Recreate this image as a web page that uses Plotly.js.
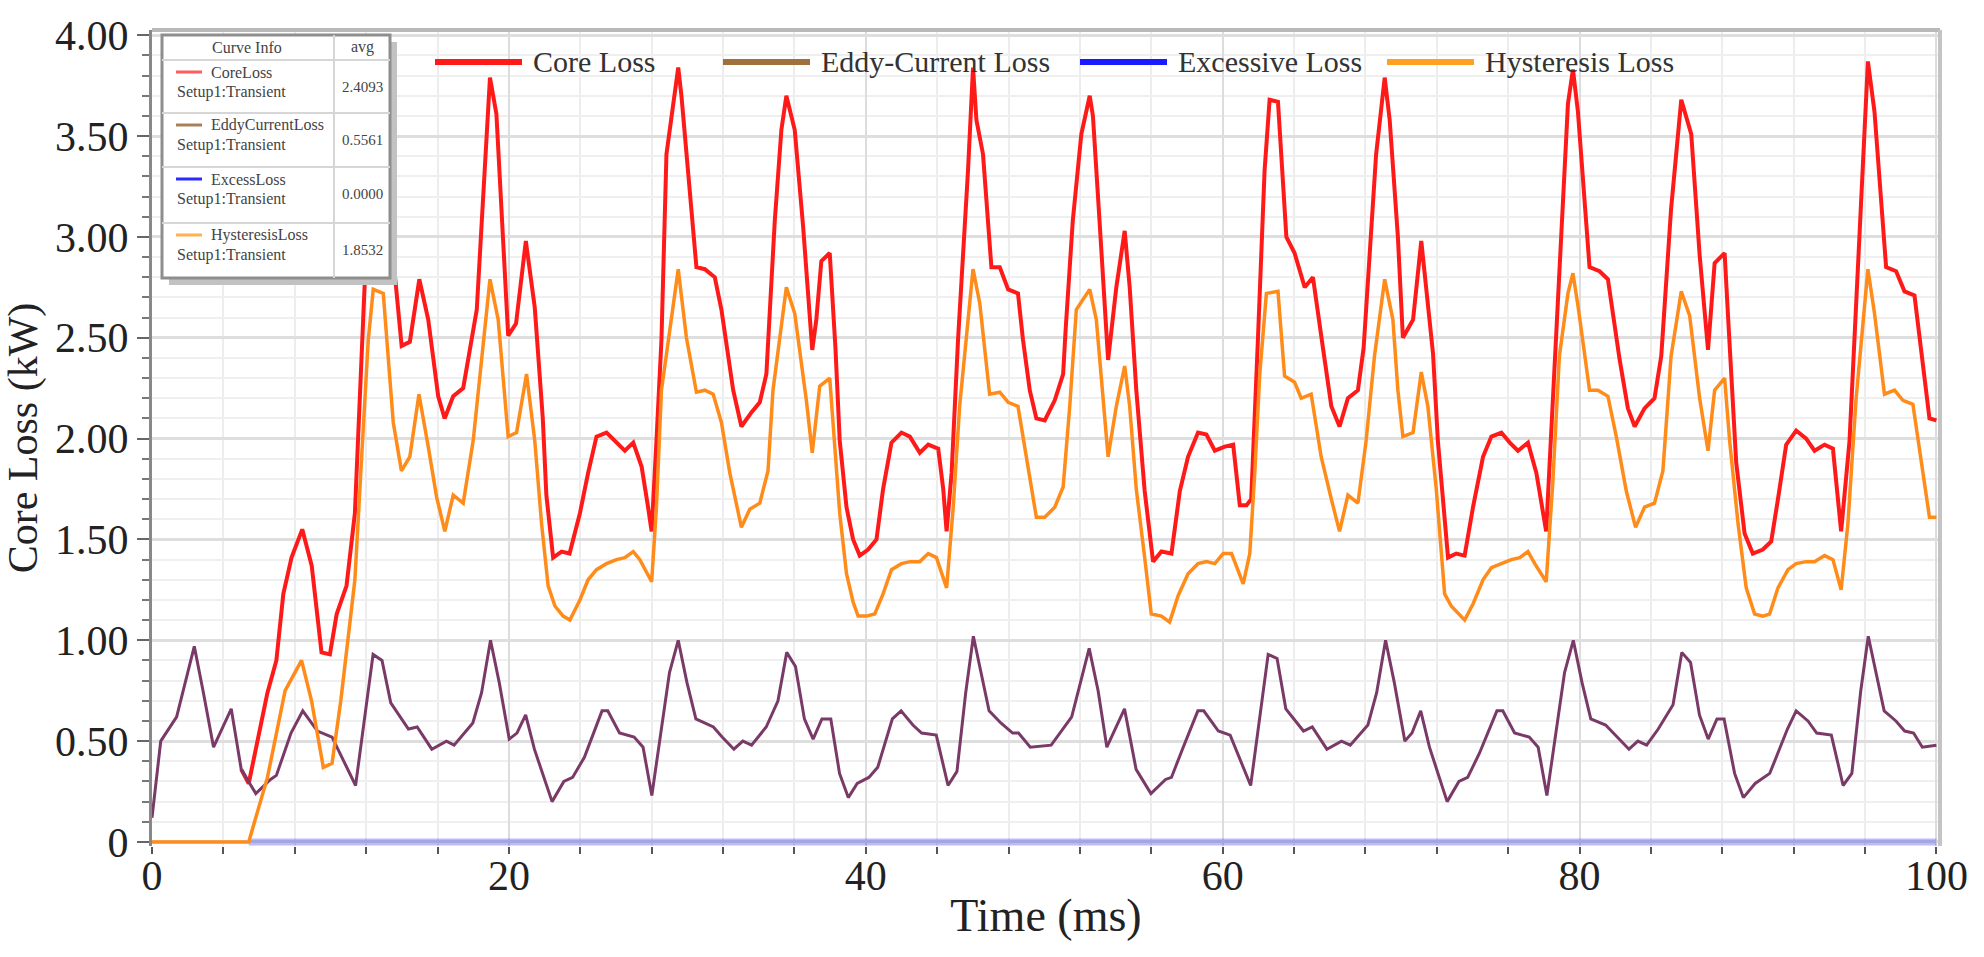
<!DOCTYPE html>
<html>
<head>
<meta charset="utf-8">
<script src="https://cdn.plot.ly/plotly-3.0.1.min.js"></script>
<style>
  html, body { margin: 0; padding: 0; background: #fff; }
  #chart { width: 1984px; height: 957px; }
</style>
</head>
<body>
<div id="chart"></div>
<script>
// Transient core loss curves (kW vs ms)
// Core loss before ~5 ms equals the eddy-current loss and sits under it, so it starts at 5 ms.

const coreTime = [5.00, 5.42, 6.47, 6.97, 7.36, 7.82, 8.42, 8.95, 9.50, 9.97, 10.35, 10.90, 11.37,
  11.75, 11.93, 12.45, 12.95, 13.30, 13.99, 14.45, 14.98, 15.48, 16.04, 16.40, 16.88, 17.44, 18.20, 18.94, 19.30, 19.96, 20.40, 20.95, 21.45,
  21.90, 22.10, 22.48, 22.95, 23.40, 23.98, 24.44, 24.91, 25.47, 26.03, 26.50, 26.97, 27.44, 27.80, 28.00, 28.27, 28.55, 28.83, 29.30, 29.49,
  29.67, 30.14, 30.51, 30.98, 31.54, 31.91, 32.28, 32.57, 33.03, 33.59, 34.06, 34.43, 34.90, 35.27, 35.55, 36.02, 36.49, 36.86, 37.00, 37.23,
  37.51, 37.98, 38.30, 38.54, 38.92, 39.29, 39.66, 40.13, 40.60, 40.97, 41.44, 42.00, 42.47, 43.03, 43.50, 44.06, 44.34, 44.53, 44.81, 45.17,
  45.73, 46.01, 46.20, 46.57, 47.04, 47.51, 47.98, 48.53, 48.81, 49.19, 49.56, 50.03, 50.59, 51.06, 51.20, 51.60, 52.08, 52.55, 52.73, 53.10,
  53.58, 54.04, 54.51, 54.79, 55.16, 55.63, 56.10, 56.57, 57.13, 57.60, 58.06, 58.62, 59.09, 59.56, 60.12, 60.59, 60.96, 61.34, 61.60, 61.98,
  62.35, 62.63, 63.10, 63.57, 64.03, 64.60, 65.06, 65.62, 66.09, 66.55, 67.02, 67.58, 67.90, 68.60, 69.08, 69.36, 69.82, 70.10, 70.67, 71.13,
  71.50, 71.79, 72.06, 72.63, 73.09, 73.56, 74.03, 74.59, 75.06, 75.62, 76.09, 76.55, 77.11, 77.58, 78.13, 78.50, 78.97, 79.35, 79.63, 79.91,
  80.56, 81.12, 81.59, 82.25, 82.71, 83.09, 83.64, 84.20, 84.58, 85.13, 85.70, 86.26, 86.73, 87.20, 87.57, 88.13, 88.32, 88.78, 89.25, 89.71,
  90.27, 90.74, 91.12, 91.58, 92.14, 92.70, 93.17, 93.73, 94.20, 94.66, 95.13, 95.69, 96.16, 96.53, 97.18, 97.74, 98.21, 98.77, 99.61, 100.00];
const coreLoss = [0.36, 0.29, 0.74, 0.90, 1.23, 1.41, 1.55, 1.37, 0.94, 0.93, 1.13, 1.27, 1.63,
  2.49, 2.79, 3.66, 3.60, 3.10, 2.46, 2.48, 2.79, 2.59, 2.21, 2.10, 2.21, 2.25, 2.64, 3.79, 3.61, 2.51, 2.57, 2.98, 2.65,
  2.10, 1.72, 1.41, 1.44, 1.43, 1.63, 1.83, 2.01, 2.03, 1.98, 1.94, 1.98, 1.86, 1.66, 1.54, 1.99, 2.49, 3.41, 3.73, 3.84,
  3.70, 3.20, 2.85, 2.84, 2.80, 2.64, 2.40, 2.24, 2.06, 2.13, 2.18, 2.32, 3.08, 3.53, 3.70, 3.53, 3.05, 2.59, 2.44, 2.59,
  2.88, 2.92, 2.45, 1.99, 1.66, 1.50, 1.42, 1.45, 1.50, 1.75, 1.98, 2.03, 2.01, 1.93, 1.97, 1.95, 1.75, 1.54, 1.83, 2.49,
  3.33, 3.84, 3.58, 3.41, 2.85, 2.85, 2.74, 2.72, 2.49, 2.24, 2.10, 2.09, 2.19, 2.32, 2.54, 3.08, 3.51, 3.70, 3.60, 3.08,
  2.39, 2.75, 3.03, 2.75, 2.24, 1.74, 1.39, 1.44, 1.43, 1.74, 1.91, 2.03, 2.02, 1.94, 1.96, 1.97, 1.67, 1.67, 1.70, 2.50,
  3.33, 3.68, 3.67, 3.00, 2.92, 2.75, 2.80, 2.45, 2.16, 2.06, 2.20, 2.24, 2.45, 3.41, 3.79, 3.58, 3.00, 2.50, 2.59, 2.98,
  2.67, 2.42, 1.99, 1.41, 1.43, 1.42, 1.66, 1.91, 2.01, 2.03, 1.98, 1.94, 1.98, 1.83, 1.54, 2.20, 3.03, 3.66, 3.83, 3.62,
  2.85, 2.83, 2.79, 2.39, 2.15, 2.06, 2.15, 2.20, 2.41, 3.14, 3.68, 3.51, 2.91, 2.44, 2.87, 2.92, 2.61, 1.88, 1.53, 1.43,
  1.45, 1.49, 1.70, 1.97, 2.04, 2.00, 1.94, 1.97, 1.95, 1.54, 1.99, 3.03, 3.87, 3.62, 2.85, 2.83, 2.73, 2.71, 2.10, 2.09];

const eddyTime = [0, 0.49, 1.38, 2.37, 2.86, 3.45, 4.44, 5.00, 5.82, 6.64, 6.97, 7.79, 8.45, 9.27, 10.09, 11.41, 12.39, 12.89, 13.38, 14.37,
  14.86, 15.68, 16.50, 16.93, 17.98, 18.47, 18.97, 19.46, 20.02, 20.45, 20.94, 21.43, 22.42, 23.08, 23.57, 24.23, 25.22, 25.54, 26.20, 26.69,
  27.02, 27.52, 28.01, 29.00, 29.49, 29.98, 30.48, 31.46, 31.95, 32.61, 33.11, 33.60, 34.42, 35.08, 35.57, 36.06, 36.56, 37.05, 37.54, 38.04,
  38.53, 39.02, 39.52, 40.17, 40.67, 41.49, 41.98, 42.64, 43.13, 43.95, 44.61, 45.11, 45.60, 46.03, 46.91, 47.57, 48.23, 48.56, 49.22, 50.39,
  51.54, 52.52, 53.02, 53.51, 54.50, 55.15, 55.98, 56.80, 57.13, 57.79, 58.61, 58.94, 59.76, 60.42, 61.57, 62.55, 63.05, 63.54, 64.53, 65.02,
  65.84, 66.66, 67.15, 68.14, 68.63, 69.13, 69.62, 70.21, 70.61, 71.10, 71.59, 72.58, 73.24, 73.73, 74.39, 75.37, 75.70, 76.36, 77.18, 77.68,
  78.17, 79.16, 79.65, 80.14, 80.63, 81.46, 82.11, 82.77, 83.27, 83.76, 84.41, 85.24, 85.73, 86.22, 86.72, 87.21, 87.70, 88.10, 88.69, 89.18,
  89.84, 90.66, 91.65, 92.14, 92.80, 93.29, 94.11, 94.77, 95.26, 95.76, 96.18, 97.07, 97.73, 98.22, 98.72, 99.21, 100.00];
const eddyLoss = [0.12, 0.50, 0.62, 0.97, 0.75, 0.47, 0.66, 0.36, 0.24, 0.31, 0.33, 0.54, 0.65, 0.55, 0.52, 0.28, 0.93, 0.90, 0.69, 0.56,
  0.57, 0.46, 0.50, 0.48, 0.59, 0.74, 1.00, 0.79, 0.51, 0.54, 0.63, 0.46, 0.20, 0.30, 0.32, 0.42, 0.65, 0.65, 0.54, 0.53,
  0.52, 0.47, 0.23, 0.84, 1.00, 0.79, 0.61, 0.57, 0.52, 0.46, 0.50, 0.48, 0.57, 0.70, 0.94, 0.87, 0.61, 0.51, 0.61, 0.61,
  0.34, 0.22, 0.29, 0.32, 0.37, 0.61, 0.65, 0.58, 0.54, 0.53, 0.28, 0.35, 0.74, 1.02, 0.65, 0.59, 0.54, 0.54, 0.47, 0.48,
  0.62, 0.96, 0.75, 0.47, 0.66, 0.36, 0.24, 0.31, 0.32, 0.47, 0.65, 0.65, 0.55, 0.53, 0.28, 0.93, 0.91, 0.66, 0.55, 0.57,
  0.46, 0.50, 0.48, 0.58, 0.74, 1.00, 0.79, 0.50, 0.54, 0.65, 0.47, 0.20, 0.30, 0.32, 0.44, 0.65, 0.65, 0.54, 0.52, 0.47,
  0.23, 0.84, 1.00, 0.79, 0.61, 0.58, 0.52, 0.46, 0.50, 0.48, 0.56, 0.68, 0.94, 0.89, 0.63, 0.51, 0.61, 0.61, 0.34, 0.22,
  0.29, 0.34, 0.56, 0.65, 0.60, 0.54, 0.53, 0.28, 0.34, 0.75, 1.02, 0.65, 0.60, 0.55, 0.54, 0.47, 0.48];

const excessTime = [5.42, 100.00];
const excessLoss = [0, 0];

const hystTime = [0, 5.42, 6.47, 7.46, 8.38, 8.94, 9.60, 10.09, 10.58, 11.37, 11.75, 12.12, 12.40, 12.96, 13.52, 13.98, 14.45, 14.96, 15.48, 15.95,
  16.41, 16.88, 17.16, 17.44, 18.00, 18.56, 18.94, 19.40, 19.96, 20.43, 20.99, 21.45, 21.83, 22.20, 22.58, 23.04, 23.42, 23.98, 24.44, 24.91,
  25.47, 26.03, 26.50, 26.97, 27.34, 28.00, 28.27, 28.55, 29.49, 29.95, 30.51, 30.98, 31.45, 31.91, 32.38, 33.03, 33.50, 34.06, 34.52, 34.80,
  35.55, 36.02, 36.67, 37.00, 37.42, 37.98, 38.26, 38.54, 38.92, 39.29, 39.57, 40.04, 40.50, 40.97, 41.44, 42.00, 42.47, 43.03, 43.50, 43.96,
  44.53, 44.90, 45.26, 46.01, 46.39, 46.94, 47.51, 47.98, 48.53, 49.00, 49.56, 50.03, 50.59, 51.06, 51.43, 51.80, 52.55, 52.92, 53.58, 54.04,
  54.51, 54.79, 55.16, 55.63, 56.00, 56.57, 57.03, 57.50, 58.06, 58.62, 59.09, 59.56, 60.03, 60.50, 60.87, 61.15, 61.52, 61.80, 62.08, 62.45,
  63.10, 63.47, 64.03, 64.40, 64.96, 65.52, 66.09, 66.55, 67.02, 67.58, 68.04, 68.51, 69.08, 69.54, 69.82, 70.10, 70.67, 71.13, 71.50, 71.97,
  72.44, 72.81, 73.56, 74.03, 74.59, 75.06, 75.62, 76.18, 76.65, 77.11, 77.49, 78.13, 78.50, 78.87, 79.35, 79.63, 79.91, 80.56, 81.03, 81.59,
  82.06, 82.62, 83.14, 83.64, 84.20, 84.67, 85.13, 85.70, 86.17, 86.73, 87.20, 87.57, 88.13, 88.41, 88.88, 89.34, 89.81, 90.27, 90.65, 91.12,
  91.68, 92.14, 92.70, 93.17, 93.73, 94.20, 94.66, 95.04, 95.50, 96.16, 96.53, 97.09, 97.65, 98.12, 98.68, 99.61, 100.00];
const hystLoss = [0, 0, 0.32, 0.75, 0.90, 0.70, 0.37, 0.39, 0.70, 1.30, 1.91, 2.49, 2.74, 2.72, 2.08, 1.84, 1.91, 2.22, 1.96, 1.71,
  1.54, 1.72, 1.70, 1.68, 1.99, 2.49, 2.79, 2.59, 2.01, 2.03, 2.32, 1.99, 1.58, 1.27, 1.17, 1.12, 1.10, 1.20, 1.30, 1.35,
  1.38, 1.40, 1.41, 1.44, 1.40, 1.29, 1.66, 2.24, 2.84, 2.50, 2.23, 2.24, 2.22, 2.08, 1.83, 1.56, 1.65, 1.68, 1.84, 2.24,
  2.75, 2.62, 2.19, 1.93, 2.26, 2.30, 1.99, 1.63, 1.33, 1.19, 1.12, 1.12, 1.13, 1.23, 1.35, 1.38, 1.39, 1.39, 1.43, 1.41,
  1.26, 1.66, 2.16, 2.84, 2.67, 2.22, 2.23, 2.18, 2.16, 1.91, 1.61, 1.61, 1.66, 1.76, 2.16, 2.64, 2.74, 2.59, 1.91, 2.16,
  2.36, 2.16, 1.75, 1.41, 1.13, 1.12, 1.09, 1.22, 1.33, 1.38, 1.39, 1.38, 1.43, 1.43, 1.35, 1.28, 1.43, 1.83, 2.32, 2.72,
  2.73, 2.31, 2.28, 2.20, 2.22, 1.91, 1.70, 1.54, 1.72, 1.68, 1.99, 2.41, 2.79, 2.59, 2.24, 2.01, 2.03, 2.33, 2.16, 1.75,
  1.23, 1.17, 1.10, 1.18, 1.30, 1.36, 1.38, 1.40, 1.41, 1.44, 1.38, 1.29, 1.78, 2.41, 2.72, 2.82, 2.66, 2.24, 2.24, 2.21,
  2.01, 1.74, 1.56, 1.66, 1.68, 1.84, 2.41, 2.73, 2.61, 2.20, 1.94, 2.24, 2.30, 1.99, 1.58, 1.26, 1.13, 1.12, 1.13, 1.26,
  1.35, 1.38, 1.39, 1.39, 1.42, 1.40, 1.25, 1.58, 2.20, 2.84, 2.62, 2.22, 2.24, 2.19, 2.17, 1.61, 1.61];

const seriesNames = ['Core Loss', 'Eddy-Current Loss', 'Excessive Loss', 'Hysteresis Loss'];
const curveInfoNames = ['CoreLoss', 'EddyCurrentLoss', 'ExcessLoss', 'HysteresisLoss'];
const curveInfoSetup = 'Setup1:Transient';
const avgValues = ['2.4093', '0.5561', '0.0000', '1.8532'];

const xTickVals = [0, 20, 40, 60, 80, 100];
const xTickText = ['0', '20', '40', '60', '80', '100'];
const yTickVals = [0, 0.5, 1, 1.5, 2, 2.5, 3, 3.5, 4];
const yTickText = ['0', '0.50', '1.00', '1.50', '2.00', '2.50', '3.00', '3.50', '4.00'];

// Plot area in page pixels, used to place the legend pieces
const plotLeft = 152, plotRight = 1940, plotTop = 30, plotBottom = 846;
function px(x) { return (x - plotLeft) / (plotRight - plotLeft); }
function py(y) { return (plotBottom - y) / (plotBottom - plotTop); }

const serif = '"Liberation Serif", "Times New Roman", serif';
const traceColors = ['#ff1a1a', '#7a3a68', 'rgba(60,60,235,0.35)', '#ff8c1a'];
const traceWidths = [4, 3, 7, 3.5];
const legendColors = ['#ff1a1a', '#a0703c', '#1a1aff', '#ffa020'];
const boxColors = ['#ff5c5c', '#a88058', '#2a2aff', '#ffb050'];

const seriesData = [
    [coreTime, coreLoss],
    [eddyTime, eddyLoss],
    [excessTime, excessLoss],
    [hystTime, hystLoss]
];

const data = seriesData.map(function(s, i) {
    return {
        type: 'scatter',
        mode: 'lines',
        name: seriesNames[i],
        x: s[0],
        y: s[1],
        line: { color: traceColors[i], width: traceWidths[i] },
        hoverinfo: 'skip'
    };
});

const shapes = [];
const annotations = [];

function boxText(text, x, y, anchor, size) {
    annotations.push({ xref: 'paper', yref: 'paper', x: px(x), y: py(y),
        xanchor: anchor, yanchor: 'middle', showarrow: false, text: text,
        font: { family: serif, size: size, color: '#444' } });
}

// frame on top and right
shapes.push({ type: 'line', xref: 'paper', yref: 'paper', x0: 0, x1: 1, y0: 1, y1: 1,
    line: { color: '#b9b9b9', width: 4 }, layer: 'above' });
shapes.push({ type: 'line', xref: 'paper', yref: 'paper', x0: 1, x1: 1, y0: 0, y1: 1,
    line: { color: '#c4c4c4', width: 4 }, layer: 'above' });

// top legend
const legendLineX = [435, 723, 1080, 1387];
const legendY = 62;
seriesNames.forEach(function(name, i) {
    shapes.push({ type: 'line', xref: 'paper', yref: 'paper',
        x0: px(legendLineX[i]), x1: px(legendLineX[i] + 87), y0: py(legendY), y1: py(legendY),
        line: { color: legendColors[i], width: 6 }, layer: 'above' });
    annotations.push({ xref: 'paper', yref: 'paper', x: px(legendLineX[i] + 96), y: py(legendY),
        xanchor: 'left', yanchor: 'middle', showarrow: false, text: name,
        font: { family: serif, size: 30, color: '#333' } });
});

// "Curve Info" box
const boxL = 162, boxR = 390, boxT = 35, boxB = 278, colX = 334;
const rowTops = [60, 113, 167, 223];
shapes.push({ type: 'rect', xref: 'paper', yref: 'paper',
    x0: px(boxL + 7), x1: px(boxR + 7), y0: py(boxT + 7), y1: py(boxB + 7),
    fillcolor: '#c2c2c2', line: { width: 0 }, layer: 'above' });
shapes.push({ type: 'rect', xref: 'paper', yref: 'paper',
    x0: px(boxL), x1: px(boxR), y0: py(boxT), y1: py(boxB),
    fillcolor: '#ffffff', line: { color: '#8e8e8e', width: 3 }, layer: 'above' });
shapes.push({ type: 'line', xref: 'paper', yref: 'paper',
    x0: px(colX), x1: px(colX), y0: py(boxT), y1: py(boxB),
    line: { color: '#d6d6d6', width: 2 }, layer: 'above' });
rowTops.forEach(function(top) {
    shapes.push({ type: 'line', xref: 'paper', yref: 'paper',
        x0: px(boxL), x1: px(boxR), y0: py(top), y1: py(top),
        line: { color: '#d6d6d6', width: 2 }, layer: 'above' });
});
boxText('Curve Info', 247, 47, 'center', 16);
boxText('avg', 362, 47, 'center', 16);
curveInfoNames.forEach(function(name, i) {
    const top = rowTops[i];
    shapes.push({ type: 'line', xref: 'paper', yref: 'paper',
        x0: px(176), x1: px(202), y0: py(top + 12), y1: py(top + 12),
        line: { color: boxColors[i], width: 3 }, layer: 'above' });
    boxText(name, 209, top + 12, 'left', 16);
    boxText(curveInfoSetup, 175, top + 32, 'left', 16);
    boxText(avgValues[i], 362, top + 27, 'center', 15);
});

const layout = {
    width: 1984,
    height: 957,
    margin: { l: plotLeft, r: 1984 - plotRight, t: plotTop, b: 957 - plotBottom },
    paper_bgcolor: '#ffffff',
    plot_bgcolor: '#ffffff',
    showlegend: false,
    font: { family: serif, color: '#222' },
    xaxis: {
        range: [0, 100.2],
        tickmode: 'array',
        tickvals: xTickVals,
        ticktext: xTickText,
        ticks: 'outside',
        ticklen: 7,
        tickwidth: 2,
        tickcolor: '#555',
        ticklabelstandoff: -14,
        tickfont: { family: serif, size: 42, color: '#222' },
        showgrid: true,
        gridcolor: '#dcdcdc',
        gridwidth: 2,
        minor: { tickmode: 'linear', tick0: 0, dtick: 4, ticks: 'outside', ticklen: 7, tickwidth: 2,
            tickcolor: '#555', showgrid: true, gridcolor: '#ededed', gridwidth: 2 },
        showline: false,
        zeroline: false,
        automargin: false,
        title: { text: 'Time (ms)', font: { family: serif, size: 46, color: '#222' }, standoff: 0 }
    },
    yaxis: {
        range: [-0.02, 4.026],
        tickmode: 'array',
        tickvals: yTickVals,
        ticktext: yTickText,
        ticks: 'outside',
        ticklen: 12,
        tickwidth: 2,
        tickcolor: '#666',
        tickfont: { family: serif, size: 42, color: '#222' },
        showgrid: true,
        gridcolor: '#dedede',
        gridwidth: 3,
        minor: { tickmode: 'linear', tick0: 0, dtick: 0.1, ticks: 'outside', ticklen: 7, tickwidth: 2,
            tickcolor: '#777', showgrid: true, gridcolor: '#efefef', gridwidth: 2 },
        showline: true,
        linecolor: '#888',
        linewidth: 3,
        zeroline: false,
        automargin: false,
        title: { text: 'Core Loss (kW)', font: { family: serif, size: 42, color: '#222' }, standoff: 6 }
    },
    shapes: shapes,
    annotations: annotations
};

Plotly.newPlot('chart', data, layout, { displayModeBar: false, staticPlot: true });
</script>
</body>
</html>
